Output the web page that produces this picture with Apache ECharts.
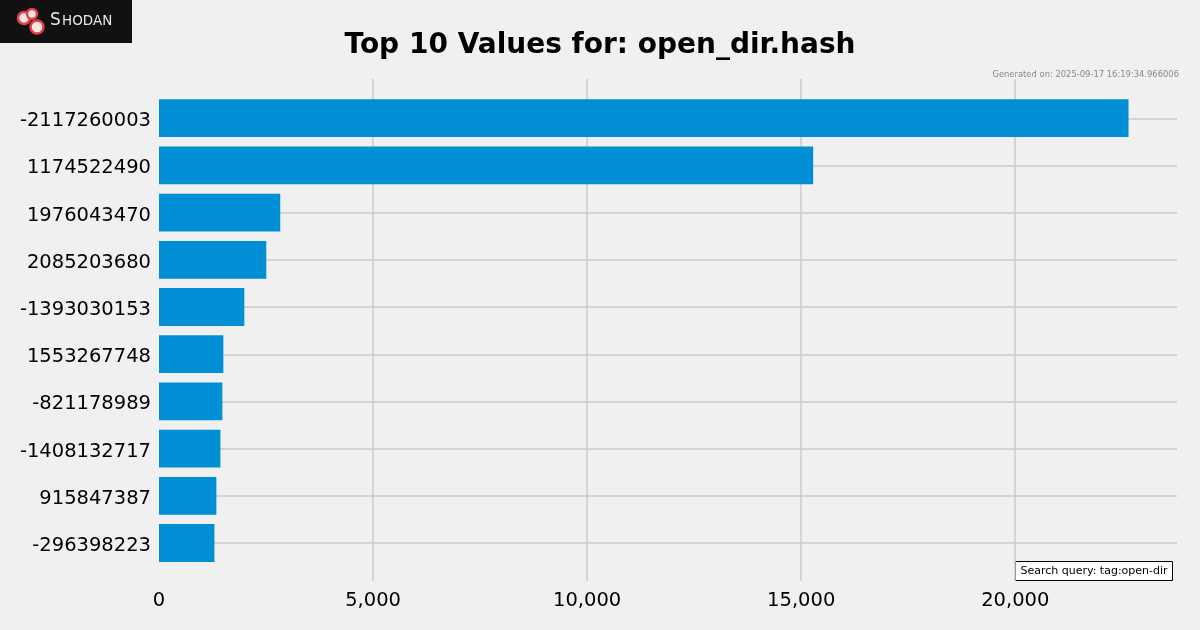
<!DOCTYPE html>
<html><head><meta charset="utf-8">
<script src="https://cdn.jsdelivr.net/npm/echarts@6/dist/echarts.min.js"></script>
<style>html,body{margin:0;padding:0;background:#f0f0f0}#c{width:1200px;height:630px}</style>
</head><body><div id="c"></div>
<script>
const categories = ['-2117260003','1174522490','1976043470','2085203680','-1393030153','1553267748','-821178989','-1408132717','915847387','-296398223'];
const counts = [22646,15280,2832,2506,1993,1503,1480,1434,1340,1294];
const xTickStep = 5000;
const titleText = 'Top 10 Values for: open_dir.hash';
const generatedText = 'Generated on: 2025-09-17 16:19:34.966006';
const queryText = 'Search query: tag:open-dir';
const brandText = ['S', 'HODAN'];

const FONT = 'DejaVu Sans';
const xMax = Math.max(...counts) * 1.05;
const L = 159, R = 23;
const chart = echarts.init(document.getElementById('c'), null, {renderer: 'canvas'});
const fmt = v => v.toLocaleString('en-US');

chart.setOption({
  backgroundColor: '#f0f0f0',
  animation: false,
  textStyle: {fontFamily: FONT},
  title: {
    text: titleText, left: 'center', top: 27,
    textStyle: {fontFamily: FONT, fontSize: 28, fontWeight: 'bold', color: '#000'}
  },
  grid: [
    {left: L, right: R, top: 79, height: 502},
    {left: L, right: R, top: 94.6, height: 472},
    {left: L, right: R, top: 118.4, height: 424.6}
  ],
  xAxis: [
    {gridIndex: 0, type: 'value', min: 0, max: xMax, interval: xTickStep,
     axisLine: {show: false}, axisTick: {show: false},
     axisLabel: {fontFamily: FONT, fontSize: 19.5, color: '#000', margin: 10, formatter: fmt, showMaxLabel: false},
     splitLine: {show: true, showMinLine: false, showMaxLine: false, lineStyle: {color: '#cbcbcb', width: 1.5}}},
    {gridIndex: 1, type: 'value', min: 0, max: xMax, show: false},
    {gridIndex: 2, type: 'value', min: 0, max: xMax, show: false}
  ],
  yAxis: [
    {gridIndex: 0, type: 'value', show: false},
    {gridIndex: 1, type: 'category', data: categories, inverse: true,
     axisLine: {show: false}, axisTick: {show: false}, splitLine: {show: false},
     axisLabel: {fontFamily: FONT, fontSize: 19.5, color: '#000', margin: 8, interval: 0,
       formatter: v => '{a|' + v + '}',
       rich: {a: {fontFamily: FONT, fontSize: 19.5, color: '#000', padding: [6, 0, 0, 0]}}}},
    {gridIndex: 2, type: 'category', data: categories, inverse: true, boundaryGap: false,
     axisLine: {show: false}, axisTick: {show: false}, axisLabel: {show: false},
     splitLine: {show: true, interval: 0, lineStyle: {color: '#cbcbcb', width: 1.5}}}
  ],
  series: [{
    type: 'bar', xAxisIndex: 1, yAxisIndex: 1, data: counts,
    barWidth: '80%', itemStyle: {color: '#008fd5'}, z: 3
  }],
  graphic: [
    {type: 'rect', left: 0, top: 0, z: 10, shape: {width: 132, height: 43}, style: {fill: '#111111'}},
    {type: 'circle', z: 11, shape: {cx: 24, cy: 18, r: 6}, style: {fill: '#fbe3e3', stroke: '#e2404a', lineWidth: 2.5}},
    {type: 'circle', z: 11, shape: {cx: 32, cy: 14, r: 5}, style: {fill: '#fbe3e3', stroke: '#e2404a', lineWidth: 2.5}},
    {type: 'circle', z: 11, shape: {cx: 37, cy: 27, r: 6.5}, style: {fill: '#fbe3e3', stroke: '#e2404a', lineWidth: 2.5}},
    {type: 'text', z: 11, left: 50, top: 12, style: {text: brandText[0], font: '17px "DejaVu Sans"', fill: '#e8e8e8'}},
    {type: 'text', z: 11, left: 62, top: 14.5, style: {text: brandText[1], font: '13.5px "DejaVu Sans"', fill: '#e8e8e8'}},
    {type: 'text', z: 11, right: 21, top: 71, style: {text: generatedText, font: '8.4px "DejaVu Sans"', fill: '#888888'}},
    {type: 'group', right: 27, top: 561, z: 11, children: [
      {type: 'rect', shape: {x: 0, y: 0, width: 157, height: 19}, style: {fill: '#ffffff', stroke: '#000000', lineWidth: 1}},
      {type: 'text', style: {x: 78.5, y: 9.5, text: queryText, font: '11px "DejaVu Sans"', fill: '#000', align: 'center', verticalAlign: 'middle'}}
    ]}
  ]
});
</script></body></html>
